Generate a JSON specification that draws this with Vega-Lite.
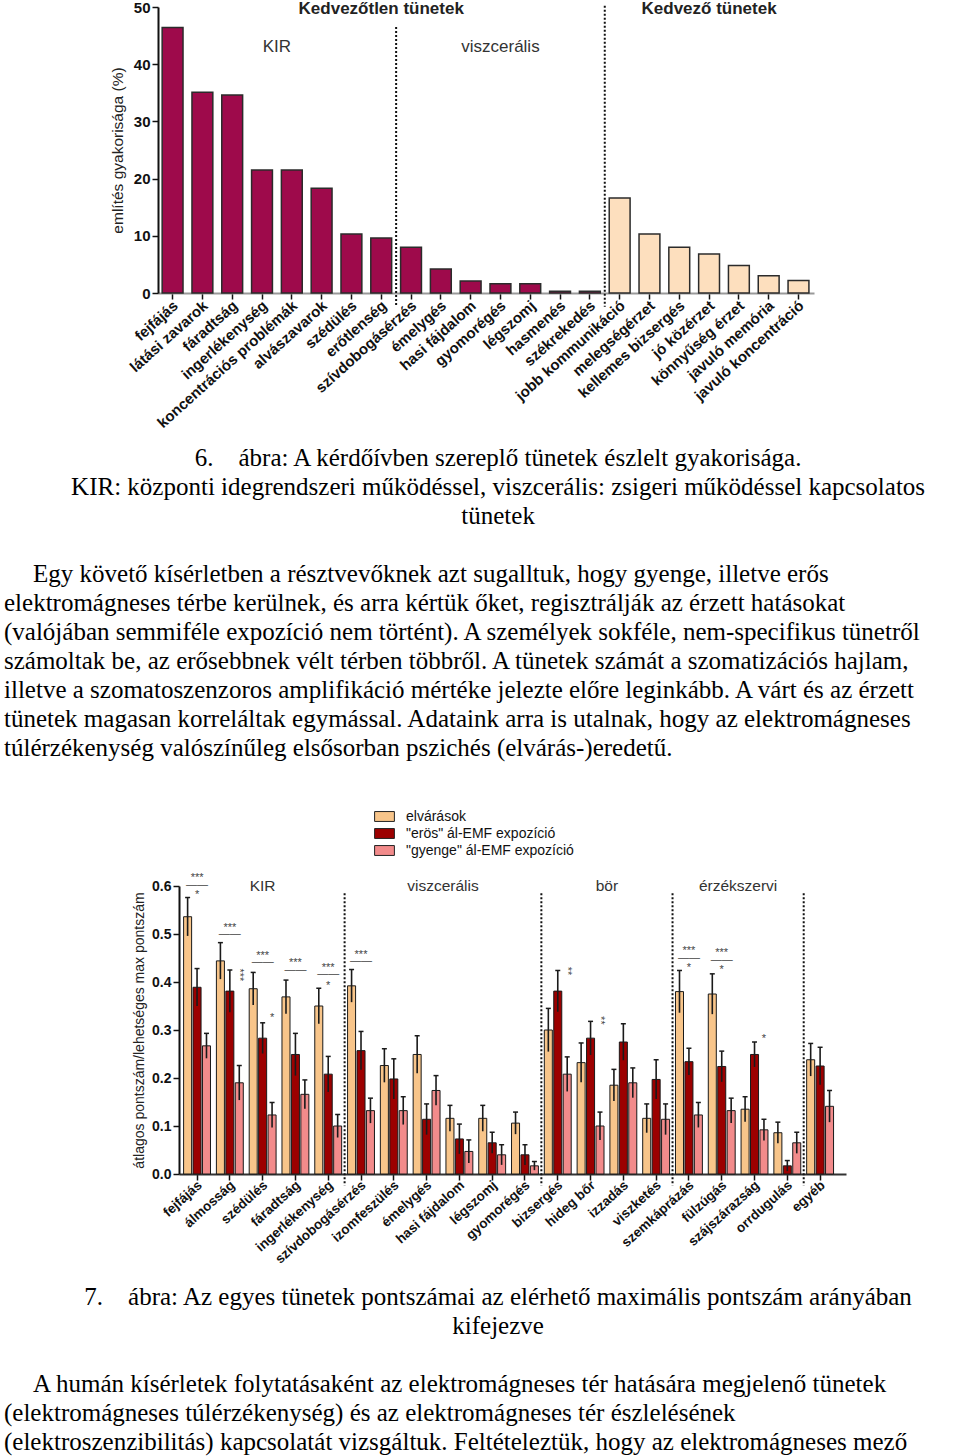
{
  "$schema": "https://vega.github.io/schema/vega-lite/v6.json",
  "padding": {"left": 4, "top": 0, "right": 0, "bottom": 0},
  "spacing": 0,
  "resolve": {"scale": {"color": "independent"}, "legend": {"color": "independent"}},
  "config": {"view": {"stroke": null}, "font": "Liberation Sans"},
  "datasets": {
    "bars1": [
      {"s": "fejfájás", "v": 46.4, "g": "bad"},
      {"s": "látási zavarok", "v": 35.1, "g": "bad"},
      {"s": "fáradtság", "v": 34.6, "g": "bad"},
      {"s": "ingerlékenység", "v": 21.5, "g": "bad"},
      {"s": "koncentrációs problémák", "v": 21.5, "g": "bad"},
      {"s": "alvászavarok", "v": 18.3, "g": "bad"},
      {"s": "szédülés", "v": 10.3, "g": "bad"},
      {"s": "erőtlenség", "v": 9.6, "g": "bad"},
      {"s": "szívdobogásérzés", "v": 8.0, "g": "bad"},
      {"s": "émelygés", "v": 4.2, "g": "bad"},
      {"s": "hasi fájdalom", "v": 2.1, "g": "bad"},
      {"s": "gyomorégés", "v": 1.6, "g": "bad"},
      {"s": "légszomj", "v": 1.6, "g": "bad"},
      {"s": "hasmenés", "v": 0.3, "g": "bad"},
      {"s": "székrekedés", "v": 0.3, "g": "bad"},
      {"s": "jobb kommunikáció", "v": 16.6, "g": "good"},
      {"s": "melegségérzet", "v": 10.3, "g": "good"},
      {"s": "kellemes bizsergés", "v": 8.0, "g": "good"},
      {"s": "jó közérzet", "v": 6.8, "g": "good"},
      {"s": "könnyűség érzet", "v": 4.8, "g": "good"},
      {"s": "javuló memória", "v": 3.0, "g": "good"},
      {"s": "javuló koncentráció", "v": 2.2, "g": "good"}
    ],
    "rules1": [
      {"at": "szívdobogásérzés", "top": 46.5, "bottom": -2.4},
      {"at": "jobb kommunikáció", "top": 50.2, "bottom": -2.4}
    ],
    "heads1": [
      {"at": "erőtlenség", "t": "Kedvezőtlen tünetek", "y": 49.6, "w": "b", "pos": "c"},
      {"at": "jó közérzet", "t": "Kedvező tünetek", "y": 49.6, "w": "b", "pos": "c"},
      {"at": "koncentrációs problémák", "t": "KIR", "y": 43, "w": "n", "pos": "g"},
      {"at": "gyomorégés", "t": "viszcerális", "y": 43, "w": "n", "pos": "c"}
    ],
    "bars2": [
      {"c": "fejfájás", "s": "elvárások", "v": 0.536, "lo": 0.496, "hi": 0.576},
      {"c": "fejfájás", "s": "\"erös\" ál-EMF expozíció", "v": 0.389, "lo": 0.350, "hi": 0.428},
      {"c": "fejfájás", "s": "\"gyenge\" ál-EMF expozíció", "v": 0.267, "lo": 0.241, "hi": 0.293},
      {"c": "álmosság", "s": "elvárások", "v": 0.444, "lo": 0.406, "hi": 0.482},
      {"c": "álmosság", "s": "\"erös\" ál-EMF expozíció", "v": 0.381, "lo": 0.337, "hi": 0.425},
      {"c": "álmosság", "s": "\"gyenge\" ál-EMF expozíció", "v": 0.190, "lo": 0.154, "hi": 0.226},
      {"c": "szédülés", "s": "elvárások", "v": 0.386, "lo": 0.352, "hi": 0.420},
      {"c": "szédülés", "s": "\"erös\" ál-EMF expozíció", "v": 0.283, "lo": 0.251, "hi": 0.315},
      {"c": "szédülés", "s": "\"gyenge\" ál-EMF expozíció", "v": 0.123, "lo": 0.097, "hi": 0.149},
      {"c": "fáradtság", "s": "elvárások", "v": 0.369, "lo": 0.334, "hi": 0.404},
      {"c": "fáradtság", "s": "\"erös\" ál-EMF expozíció", "v": 0.249, "lo": 0.205, "hi": 0.293},
      {"c": "fáradtság", "s": "\"gyenge\" ál-EMF expozíció", "v": 0.166, "lo": 0.136, "hi": 0.196},
      {"c": "ingerlékenység", "s": "elvárások", "v": 0.350, "lo": 0.313, "hi": 0.387},
      {"c": "ingerlékenység", "s": "\"erös\" ál-EMF expozíció", "v": 0.208, "lo": 0.171, "hi": 0.245},
      {"c": "ingerlékenység", "s": "\"gyenge\" ál-EMF expozíció", "v": 0.100, "lo": 0.076, "hi": 0.124},
      {"c": "szívdobogásérzés", "s": "elvárások", "v": 0.392, "lo": 0.358, "hi": 0.426},
      {"c": "szívdobogásérzés", "s": "\"erös\" ál-EMF expozíció", "v": 0.257, "lo": 0.217, "hi": 0.297},
      {"c": "szívdobogásérzés", "s": "\"gyenge\" ál-EMF expozíció", "v": 0.132, "lo": 0.106, "hi": 0.158},
      {"c": "izomfeszülés", "s": "elvárások", "v": 0.226, "lo": 0.191, "hi": 0.261},
      {"c": "izomfeszülés", "s": "\"erös\" ál-EMF expozíció", "v": 0.198, "lo": 0.156, "hi": 0.240},
      {"c": "izomfeszülés", "s": "\"gyenge\" ál-EMF expozíció", "v": 0.132, "lo": 0.103, "hi": 0.161},
      {"c": "émelygés", "s": "elvárások", "v": 0.249, "lo": 0.210, "hi": 0.288},
      {"c": "émelygés", "s": "\"erös\" ál-EMF expozíció", "v": 0.114, "lo": 0.082, "hi": 0.146},
      {"c": "émelygés", "s": "\"gyenge\" ál-EMF expozíció", "v": 0.174, "lo": 0.143, "hi": 0.205},
      {"c": "hasi fájdalom", "s": "elvárások", "v": 0.116, "lo": 0.089, "hi": 0.143},
      {"c": "hasi fájdalom", "s": "\"erös\" ál-EMF expozíció", "v": 0.073, "lo": 0.042, "hi": 0.104},
      {"c": "hasi fájdalom", "s": "\"gyenge\" ál-EMF expozíció", "v": 0.047, "lo": 0.023, "hi": 0.071},
      {"c": "légszomj", "s": "elvárások", "v": 0.116, "lo": 0.089, "hi": 0.143},
      {"c": "légszomj", "s": "\"erös\" ál-EMF expozíció", "v": 0.065, "lo": 0.043, "hi": 0.087},
      {"c": "légszomj", "s": "\"gyenge\" ál-EMF expozíció", "v": 0.040, "lo": 0.019, "hi": 0.061},
      {"c": "gyomorégés", "s": "elvárások", "v": 0.106, "lo": 0.083, "hi": 0.129},
      {"c": "gyomorégés", "s": "\"erös\" ál-EMF expozíció", "v": 0.040, "lo": 0.019, "hi": 0.061},
      {"c": "gyomorégés", "s": "\"gyenge\" ál-EMF expozíció", "v": 0.017, "lo": 0.008, "hi": 0.026},
      {"c": "bizsergés", "s": "elvárások", "v": 0.300, "lo": 0.255, "hi": 0.345},
      {"c": "bizsergés", "s": "\"erös\" ál-EMF expozíció", "v": 0.381, "lo": 0.338, "hi": 0.424},
      {"c": "bizsergés", "s": "\"gyenge\" ál-EMF expozíció", "v": 0.208, "lo": 0.172, "hi": 0.244},
      {"c": "hideg bőr", "s": "elvárások", "v": 0.232, "lo": 0.191, "hi": 0.273},
      {"c": "hideg bőr", "s": "\"erös\" ál-EMF expozíció", "v": 0.283, "lo": 0.248, "hi": 0.318},
      {"c": "hideg bőr", "s": "\"gyenge\" ál-EMF expozíció", "v": 0.100, "lo": 0.071, "hi": 0.129},
      {"c": "izzadás", "s": "elvárások", "v": 0.185, "lo": 0.152, "hi": 0.218},
      {"c": "izzadás", "s": "\"erös\" ál-EMF expozíció", "v": 0.275, "lo": 0.237, "hi": 0.313},
      {"c": "izzadás", "s": "\"gyenge\" ál-EMF expozíció", "v": 0.190, "lo": 0.159, "hi": 0.221},
      {"c": "viszketés", "s": "elvárások", "v": 0.116, "lo": 0.086, "hi": 0.146},
      {"c": "viszketés", "s": "\"erös\" ál-EMF expozíció", "v": 0.197, "lo": 0.156, "hi": 0.238},
      {"c": "viszketés", "s": "\"gyenge\" ál-EMF expozíció", "v": 0.114, "lo": 0.082, "hi": 0.146},
      {"c": "szemkáprázás", "s": "elvárások", "v": 0.380, "lo": 0.336, "hi": 0.424},
      {"c": "szemkáprázás", "s": "\"erös\" ál-EMF expozíció", "v": 0.234, "lo": 0.206, "hi": 0.262},
      {"c": "szemkáprázás", "s": "\"gyenge\" ál-EMF expozíció", "v": 0.123, "lo": 0.097, "hi": 0.149},
      {"c": "fülzúgás", "s": "elvárások", "v": 0.375, "lo": 0.333, "hi": 0.417},
      {"c": "fülzúgás", "s": "\"erös\" ál-EMF expozíció", "v": 0.224, "lo": 0.192, "hi": 0.256},
      {"c": "fülzúgás", "s": "\"gyenge\" ál-EMF expozíció", "v": 0.132, "lo": 0.106, "hi": 0.158},
      {"c": "szájszárazság", "s": "elvárások", "v": 0.135, "lo": 0.109, "hi": 0.161},
      {"c": "szájszárazság", "s": "\"erös\" ál-EMF expozíció", "v": 0.249, "lo": 0.223, "hi": 0.275},
      {"c": "szájszárazság", "s": "\"gyenge\" ál-EMF expozíció", "v": 0.092, "lo": 0.070, "hi": 0.114},
      {"c": "orrdugulás", "s": "elvárások", "v": 0.086, "lo": 0.064, "hi": 0.108},
      {"c": "orrdugulás", "s": "\"erös\" ál-EMF expozíció", "v": 0.017, "lo": 0.006, "hi": 0.028},
      {"c": "orrdugulás", "s": "\"gyenge\" ál-EMF expozíció", "v": 0.065, "lo": 0.043, "hi": 0.087},
      {"c": "egyéb", "s": "elvárások", "v": 0.238, "lo": 0.204, "hi": 0.272},
      {"c": "egyéb", "s": "\"erös\" ál-EMF expozíció", "v": 0.225, "lo": 0.186, "hi": 0.264},
      {"c": "egyéb", "s": "\"gyenge\" ál-EMF expozíció", "v": 0.141, "lo": 0.108, "hi": 0.174}
    ],
    "rules2": [
      {"at": "szívdobogásérzés", "top": 0.585, "bottom": -0.024},
      {"at": "bizsergés", "top": 0.585, "bottom": -0.024},
      {"at": "szemkáprázás", "top": 0.585, "bottom": -0.024},
      {"at": "egyéb", "top": 0.585, "bottom": -0.024}
    ],
    "heads2": [
      {"at": "szédülés", "t": "KIR", "y": 0.6, "pos": "c"},
      {"at": "hasi fájdalom", "t": "viszcerális", "y": 0.6, "pos": "g"},
      {"at": "izzadás", "t": "bör", "y": 0.6, "pos": "g"},
      {"at": "szájszárazság", "t": "érzékszervi", "y": 0.6, "pos": "g"}
    ],
    "notes2": [
      {"c": "fejfájás", "p": "\"erös\" ál-EMF expozíció", "y": 0.617, "t": "***", "r": 0},
      {"c": "fejfájás", "p": "\"erös\" ál-EMF expozíció", "y": 0.603, "t": "——", "r": 0},
      {"c": "fejfájás", "p": "\"erös\" ál-EMF expozíció", "y": 0.582, "t": "*", "r": 0},
      {"c": "álmosság", "p": "\"erös\" ál-EMF expozíció", "y": 0.513, "t": "***", "r": 0},
      {"c": "álmosság", "p": "\"erös\" ál-EMF expozíció", "y": 0.499, "t": "——", "r": 0},
      {"c": "álmosság", "p": "\"gyenge\" ál-EMF expozíció", "y": 0.415, "t": "***", "r": 1},
      {"c": "szédülés", "p": "\"erös\" ál-EMF expozíció", "y": 0.455, "t": "***", "r": 0},
      {"c": "szédülés", "p": "\"erös\" ál-EMF expozíció", "y": 0.441, "t": "——", "r": 0},
      {"c": "szédülés", "p": "\"gyenge\" ál-EMF expozíció", "y": 0.324, "t": "*", "r": 0},
      {"c": "fáradtság", "p": "\"erös\" ál-EMF expozíció", "y": 0.44, "t": "***", "r": 0},
      {"c": "fáradtság", "p": "\"erös\" ál-EMF expozíció", "y": 0.426, "t": "——", "r": 0},
      {"c": "ingerlékenység", "p": "\"erös\" ál-EMF expozíció", "y": 0.43, "t": "***", "r": 0},
      {"c": "ingerlékenység", "p": "\"erös\" ál-EMF expozíció", "y": 0.416, "t": "——", "r": 0},
      {"c": "ingerlékenység", "p": "\"erös\" ál-EMF expozíció", "y": 0.392, "t": "*", "r": 0},
      {"c": "szívdobogásérzés", "p": "\"erös\" ál-EMF expozíció", "y": 0.457, "t": "***", "r": 0},
      {"c": "szívdobogásérzés", "p": "\"erös\" ál-EMF expozíció", "y": 0.443, "t": "——", "r": 0},
      {"c": "bizsergés", "p": "\"gyenge\" ál-EMF expozíció", "y": 0.423, "t": "**", "r": 1},
      {"c": "hideg bőr", "p": "\"gyenge\" ál-EMF expozíció", "y": 0.32, "t": "**", "r": 1},
      {"c": "szemkáprázás", "p": "\"erös\" ál-EMF expozíció", "y": 0.465, "t": "***", "r": 0},
      {"c": "szemkáprázás", "p": "\"erös\" ál-EMF expozíció", "y": 0.451, "t": "——", "r": 0},
      {"c": "szemkáprázás", "p": "\"erös\" ál-EMF expozíció", "y": 0.43, "t": "*", "r": 0},
      {"c": "fülzúgás", "p": "\"erös\" ál-EMF expozíció", "y": 0.46, "t": "***", "r": 0},
      {"c": "fülzúgás", "p": "\"erös\" ál-EMF expozíció", "y": 0.446, "t": "——", "r": 0},
      {"c": "fülzúgás", "p": "\"erös\" ál-EMF expozíció", "y": 0.425, "t": "*", "r": 0},
      {"c": "szájszárazság", "p": "\"gyenge\" ál-EMF expozíció", "y": 0.282, "t": "*", "r": 0}
    ],
    "text1": [
      {"line": 0, "k": "cap", "t": "6.\u00a0\u00a0\u00a0\u00a0ábra: A kérdőívben szereplő tünetek észlelt gyakorisága."},
      {"line": 1, "k": "cap", "t": "KIR: központi idegrendszeri működéssel, viszcerális: zsigeri működéssel kapcsolatos"},
      {"line": 2, "k": "cap", "t": "tünetek"},
      {"line": 4, "k": "p1", "t": "Egy követő kísérletben a résztvevőknek azt sugalltuk, hogy gyenge, illetve erős"},
      {"line": 5, "k": "p", "t": "elektromágneses térbe kerülnek, és arra kértük őket, regisztrálják az érzett hatásokat"},
      {"line": 6, "k": "p", "t": "(valójában semmiféle expozíció nem történt). A személyek sokféle, nem-specifikus tünetről"},
      {"line": 7, "k": "p", "t": "számoltak be, az erősebbnek vélt térben többről. A tünetek számát a szomatizációs hajlam,"},
      {"line": 8, "k": "p", "t": "illetve a szomatoszenzoros amplifikáció mértéke jelezte előre leginkább. A várt és az érzett"},
      {"line": 9, "k": "p", "t": "tünetek magasan korreláltak egymással. Adataink arra is utalnak, hogy az elektromágneses"},
      {"line": 10, "k": "p", "t": "túlérzékenység valószínűleg elsősorban pszichés (elvárás-)eredetű."}
    ],
    "text2": [
      {"line": 0, "k": "cap", "t": "7.\u00a0\u00a0\u00a0\u00a0ábra: Az egyes tünetek pontszámai az elérhető maximális pontszám arányában"},
      {"line": 1, "k": "cap", "t": "kifejezve"},
      {"line": 3, "k": "p1", "t": "A humán kísérletek folytatásaként az elektromágneses tér hatására megjelenő tünetek"},
      {"line": 4, "k": "p", "t": "(elektromágneses túlérzékenység) és az elektromágneses tér észlelésének"},
      {"line": 5, "k": "p", "t": "(elektroszenzibilitás) kapcsolatát vizsgáltuk. Feltételeztük, hogy az elektromágneses mező"}
    ]
  },
  "vconcat": [
    {
      "spacing": 0,
      "hconcat": [
        {"width": 106, "height": 1, "data": {"values": [{"z": 0}]}, "mark": {"type": "point", "opacity": 0}, "encoding": {}},
        {
          "width": 656,
          "height": 286,
          "layer": [
            {
              "data": {"name": "bars1"},
              "mark": {"type": "bar", "stroke": "#2b2b2b", "strokeWidth": 1.5},
              "encoding": {
                "x": {
                  "field": "s", "type": "nominal", "sort": null,
                  "scale": {
                    "domain": ["fejfájás", "látási zavarok", "fáradtság", "ingerlékenység", "koncentrációs problémák", "alvászavarok", "szédülés", "erőtlenség", "szívdobogásérzés", "émelygés", "hasi fájdalom", "gyomorégés", "légszomj", "hasmenés", "székrekedés", "jobb kommunikáció", "melegségérzet", "kellemes bizsergés", "jó közérzet", "könnyűség érzet", "javuló memória", "javuló koncentráció"],
                    "paddingInner": 0.3, "paddingOuter": 0.155, "align": 0.45
                  },
                  "axis": {
                    "title": null, "labelAngle": -42, "labelAlign": "right", "labelBaseline": "middle",
                    "labelFontWeight": "bold", "labelFontSize": 15, "labelColor": "#111", "labelPadding": 4,
                    "labelOffset": 3, "labelLimit": 300, "labelOverlap": false,
                    "tickSize": 6, "tickWidth": 1.5, "tickColor": "#111", "domainColor": "#999", "domainWidth": 2
                  }
                },
                "y": {
                  "field": "v", "type": "quantitative",
                  "scale": {"domain": [0, 50], "nice": false},
                  "axis": {
                    "title": "említés gyakorisága (%)", "titleFontWeight": "normal", "titleFontSize": 15.5,
                    "titleColor": "#222", "titlePadding": 8, "values": [0, 10, 20, 30, 40, 50],
                    "labelFontWeight": "bold", "labelFontSize": 15, "labelColor": "#111", "labelPadding": 2,
                    "tickSize": 6, "tickWidth": 1.5, "tickColor": "#111", "domainColor": "#111", "domainWidth": 2, "grid": false
                  }
                },
                "color": {
                  "field": "g", "type": "nominal",
                  "scale": {"domain": ["bad", "good"], "range": ["#9E0A4B", "#FDDFBE"]},
                  "legend": null
                }
              }
            },
            {
              "data": {"name": "rules1"},
              "mark": {"type": "rule", "strokeDash": [2, 2], "strokeWidth": 2, "color": "#111"},
              "encoding": {
                "x": {"field": "at", "type": "nominal", "sort": null, "bandPosition": -0.214},
                "y": {"field": "top", "type": "quantitative"},
                "y2": {"field": "bottom"}
              }
            },
            {
              "data": {"name": "heads1"},
              "transform": [{"filter": "datum.pos == 'c' && datum.w == 'b'"}],
              "mark": {"type": "text", "fontWeight": "bold", "fontSize": 17, "color": "#222", "baseline": "middle"},
              "encoding": {
                "x": {"field": "at", "type": "nominal", "sort": null},
                "y": {"field": "y", "type": "quantitative"},
                "text": {"field": "t", "type": "nominal"}
              }
            },
            {
              "data": {"name": "heads1"},
              "transform": [{"filter": "datum.pos == 'c' && datum.w == 'n'"}],
              "mark": {"type": "text", "fontSize": 17, "color": "#333", "baseline": "middle"},
              "encoding": {
                "x": {"field": "at", "type": "nominal", "sort": null},
                "y": {"field": "y", "type": "quantitative"},
                "text": {"field": "t", "type": "nominal"}
              }
            },
            {
              "data": {"name": "heads1"},
              "transform": [{"filter": "datum.pos == 'g'"}],
              "mark": {"type": "text", "fontSize": 17, "color": "#333", "baseline": "middle"},
              "encoding": {
                "x": {"field": "at", "type": "nominal", "sort": null, "bandPosition": -0.214},
                "y": {"field": "y", "type": "quantitative"},
                "text": {"field": "t", "type": "nominal"}
              }
            }
          ]
        }
      ]
    },
    {
      "width": 952,
      "height": 376,
      "data": {"name": "text1"},
      "encoding": {
        "y": {"field": "line", "type": "quantitative", "scale": {"domain": [-0.93, 12.03], "reverse": true, "nice": false, "zero": false}, "axis": null}
      },
      "layer": [
        {
          "transform": [{"filter": "datum.k == 'cap'"}],
          "mark": {"type": "text", "font": "Liberation Serif", "fontSize": 25, "align": "center", "baseline": "middle", "color": "#000"},
          "encoding": {
            "x": {"datum": 0.519, "type": "quantitative", "scale": {"domain": [0, 1], "nice": false, "zero": false}, "axis": null},
            "text": {"field": "t", "type": "nominal"}
          }
        },
        {
          "transform": [{"filter": "datum.k == 'p1'"}],
          "mark": {"type": "text", "font": "Liberation Serif", "fontSize": 25, "align": "left", "baseline": "middle", "color": "#000"},
          "encoding": {
            "x": {"datum": 0.0305, "type": "quantitative", "scale": {"domain": [0, 1], "nice": false, "zero": false}, "axis": null},
            "text": {"field": "t", "type": "nominal"}
          }
        },
        {
          "transform": [{"filter": "datum.k == 'p'"}],
          "mark": {"type": "text", "font": "Liberation Serif", "fontSize": 25, "align": "left", "baseline": "middle", "color": "#000"},
          "encoding": {
            "x": {"datum": 0, "type": "quantitative", "scale": {"domain": [0, 1], "nice": false, "zero": false}, "axis": null},
            "text": {"field": "t", "type": "nominal"}
          }
        }
      ]
    },
    {
      "spacing": 0,
      "hconcat": [
        {"width": 128, "height": 1, "data": {"values": [{"z": 0}]}, "mark": {"type": "point", "opacity": 0}, "encoding": {}},
        {
          "width": 667,
          "height": 288,
          "layer": [
            {
              "data": {"name": "bars2"},
              "mark": {"type": "bar", "stroke": "#1a1a1a", "strokeWidth": 1},
              "encoding": {
                "x": {
                  "field": "c", "type": "nominal", "sort": null,
                  "scale": {
                    "domain": ["fejfájás", "álmosság", "szédülés", "fáradtság", "ingerlékenység", "szívdobogásérzés", "izomfeszülés", "émelygés", "hasi fájdalom", "légszomj", "gyomorégés", "bizsergés", "hideg bőr", "izzadás", "viszketés", "szemkáprázás", "fülzúgás", "szájszárazság", "orrdugulás", "egyéb"],
                    "paddingInner": 0.18, "paddingOuter": 0.26, "align": 0.27
                  },
                  "axis": {
                    "title": null, "labelAngle": -42, "labelAlign": "right", "labelBaseline": "middle",
                    "labelFontWeight": "bold", "labelFontSize": 13.5, "labelColor": "#111", "labelPadding": 3,
                    "labelOffset": 3, "labelLimit": 300, "labelOverlap": false,
                    "tickSize": 6, "tickWidth": 1.5, "tickColor": "#111", "domainColor": "#333", "domainWidth": 2
                  }
                },
                "xOffset": {
                  "field": "s", "type": "nominal", "sort": null,
                  "scale": {"domain": ["elvárások", "\"erös\" ál-EMF expozíció", "\"gyenge\" ál-EMF expozíció"], "paddingInner": 0.15}
                },
                "y": {
                  "field": "v", "type": "quantitative",
                  "scale": {"domain": [0, 0.6], "nice": false},
                  "axis": {
                    "title": "átlagos pontszám/lehetséges max pontszám", "titleFontWeight": "normal", "titleFontSize": 14,
                    "titleColor": "#222", "titlePadding": 5, "values": [0, 0.1, 0.2, 0.3, 0.4, 0.5, 0.6], "format": ".1f",
                    "labelFontWeight": "bold", "labelFontSize": 14, "labelColor": "#111", "labelPadding": 2,
                    "tickSize": 6, "tickWidth": 1.5, "tickColor": "#111", "domainColor": "#111", "domainWidth": 2, "grid": false
                  }
                },
                "color": {
                  "field": "s", "type": "nominal",
                  "scale": {"domain": ["elvárások", "\"erös\" ál-EMF expozíció", "\"gyenge\" ál-EMF expozíció"], "range": ["#F8C58A", "#9C0000", "#F28B8B"]},
                  "legend": {
                    "orient": "none", "legendX": 371, "legendY": -79, "title": null,
                    "symbolType": "M-1.1,-0.55H1.1V0.55H-1.1Z", "symbolSize": 324,
                    "symbolStrokeColor": "#222", "symbolStrokeWidth": 1, "symbolOpacity": 1,
                    "labelFontSize": 14, "labelFont": "Liberation Sans", "labelColor": "#111", "labelLimit": 400,
                    "rowPadding": 0, "labelOffset": 12, "padding": 0
                  }
                }
              }
            },
            {
              "data": {"name": "bars2"},
              "mark": {"type": "bar", "width": 1.6, "color": "#1a1a1a"},
              "encoding": {
                "x": {"field": "c", "type": "nominal", "sort": null},
                "xOffset": {"field": "s", "type": "nominal", "sort": null, "scale": {"domain": ["elvárások", "\"erös\" ál-EMF expozíció", "\"gyenge\" ál-EMF expozíció"]}},
                "y": {"field": "lo", "type": "quantitative"},
                "y2": {"field": "hi"}
              }
            },
            {
              "data": {"name": "bars2"},
              "mark": {"type": "point", "shape": "M-1,0H1", "size": 25, "filled": false, "stroke": "#1a1a1a", "strokeWidth": 1.5, "opacity": 1},
              "encoding": {
                "x": {"field": "c", "type": "nominal", "sort": null},
                "xOffset": {"field": "s", "type": "nominal", "sort": null, "scale": {"domain": ["elvárások", "\"erös\" ál-EMF expozíció", "\"gyenge\" ál-EMF expozíció"]}},
                "y": {"field": "hi", "type": "quantitative"}
              }
            },
            {
              "data": {"name": "rules2"},
              "mark": {"type": "rule", "strokeDash": [2, 2], "strokeWidth": 2, "color": "#111"},
              "encoding": {
                "x": {"field": "at", "type": "nominal", "sort": null, "bandPosition": -0.11},
                "y": {"field": "top", "type": "quantitative"},
                "y2": {"field": "bottom"}
              }
            },
            {
              "data": {"name": "heads2"},
              "transform": [{"filter": "datum.pos == 'c'"}],
              "mark": {"type": "text", "fontSize": 15.5, "color": "#333", "baseline": "middle"},
              "encoding": {
                "x": {"field": "at", "type": "nominal", "sort": null},
                "y": {"field": "y", "type": "quantitative"},
                "text": {"field": "t", "type": "nominal"}
              }
            },
            {
              "data": {"name": "heads2"},
              "transform": [{"filter": "datum.pos == 'g'"}],
              "mark": {"type": "text", "fontSize": 15.5, "color": "#333", "baseline": "middle"},
              "encoding": {
                "x": {"field": "at", "type": "nominal", "sort": null, "bandPosition": -0.11},
                "y": {"field": "y", "type": "quantitative"},
                "text": {"field": "t", "type": "nominal"}
              }
            },
            {
              "data": {"name": "notes2"},
              "transform": [{"filter": "datum.r == 0"}],
              "mark": {"type": "text", "fontSize": 11, "color": "#444", "baseline": "middle"},
              "encoding": {
                "x": {"field": "c", "type": "nominal", "sort": null},
                "xOffset": {"field": "p", "type": "nominal", "sort": null, "scale": {"domain": ["elvárások", "\"erös\" ál-EMF expozíció", "\"gyenge\" ál-EMF expozíció"]}},
                "y": {"field": "y", "type": "quantitative"},
                "text": {"field": "t", "type": "nominal"}
              }
            },
            {
              "data": {"name": "notes2"},
              "transform": [{"filter": "datum.r == 1"}],
              "mark": {"type": "text", "fontSize": 11, "color": "#444", "baseline": "middle", "angle": 90},
              "encoding": {
                "x": {"field": "c", "type": "nominal", "sort": null},
                "xOffset": {"field": "p", "type": "nominal", "sort": null, "scale": {"domain": ["elvárások", "\"erös\" ál-EMF expozíció", "\"gyenge\" ál-EMF expozíció"]}},
                "y": {"field": "y", "type": "quantitative"},
                "text": {"field": "t", "type": "nominal"}
              }
            }
          ]
        }
      ]
    },
    {
      "width": 952,
      "height": 196,
      "data": {"name": "text2"},
      "encoding": {
        "y": {"field": "line", "type": "quantitative", "scale": {"domain": [-1.06, 5.7], "reverse": true, "nice": false, "zero": false}, "axis": null}
      },
      "layer": [
        {
          "transform": [{"filter": "datum.k == 'cap'"}],
          "mark": {"type": "text", "font": "Liberation Serif", "fontSize": 25, "align": "center", "baseline": "middle", "color": "#000"},
          "encoding": {
            "x": {"datum": 0.519, "type": "quantitative", "scale": {"domain": [0, 1], "nice": false, "zero": false}, "axis": null},
            "text": {"field": "t", "type": "nominal"}
          }
        },
        {
          "transform": [{"filter": "datum.k == 'p1'"}],
          "mark": {"type": "text", "font": "Liberation Serif", "fontSize": 25, "align": "left", "baseline": "middle", "color": "#000"},
          "encoding": {
            "x": {"datum": 0.0305, "type": "quantitative", "scale": {"domain": [0, 1], "nice": false, "zero": false}, "axis": null},
            "text": {"field": "t", "type": "nominal"}
          }
        },
        {
          "transform": [{"filter": "datum.k == 'p'"}],
          "mark": {"type": "text", "font": "Liberation Serif", "fontSize": 25, "align": "left", "baseline": "middle", "color": "#000"},
          "encoding": {
            "x": {"datum": 0, "type": "quantitative", "scale": {"domain": [0, 1], "nice": false, "zero": false}, "axis": null},
            "text": {"field": "t", "type": "nominal"}
          }
        }
      ]
    }
  ]
}
